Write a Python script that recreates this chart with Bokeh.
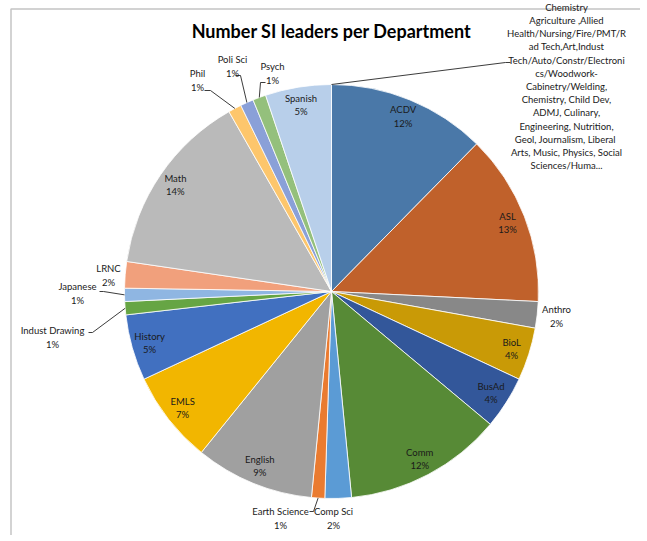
import math
from bokeh.plotting import figure
from bokeh.models import Range1d, ColumnDataSource
from bokeh.core.properties import value
from bokeh.embed import file_html
from bokeh.resources import INLINE

# ---------------- data ----------------
title_text = "Number SI leaders per Department"
categories = [
    "Chemistry Agriculture ,Allied Health/Nursing/Fire/PMT/Rad Tech,Art,Indust Tech/Auto/Constr/Electronics/Woodwork-Cabinetry/Welding, Chemistry, Child Dev, ADMJ, Culinary, Engineering, Nutrition, Geol,  Journalism, Liberal Arts, Music, Physics, Social Sciences/Huma...",
    "ACDV", "ASL", "Anthro", "BioL", "BusAd", "Comm", "Comp Sci", "Earth Science",
    "English", "EMLS", "History", "Indust Drawing", "Japanese", "LRNC", "Math",
    "Phil", "Poli Sci", "Psych", "Spanish",
]
counts = [0, 12, 13, 2, 4, 4, 12, 2, 1, 9, 7, 5, 1, 1, 2, 14, 1, 1, 1, 5]
colors = [
    "#5b9bd5", "#4a78a8", "#c0612b", "#888888", "#c99a06", "#33579a", "#578a36",
    "#5b9bd5", "#ea7b30", "#a0a0a0", "#f2b600", "#4170c0", "#66a544", "#8fb6e2",
    "#f1a07c", "#bababa", "#fdc66c", "#8aa0d8", "#94c07c", "#b8cfea",
]
# wrapped display text of the long first category (as Excel shows it)
first_label_lines = [
    "Chemistry", "Agriculture ,Allied", "Health/Nursing/Fire/PMT/R", "ad Tech,Art,Indust",
    "Tech/Auto/Constr/Electroni", "cs/Woodwork-", "Cabinetry/Welding,",
    "Chemistry, Child Dev,", "ADMJ, Culinary,", "Engineering, Nutrition,",
    "Geol,  Journalism, Liberal", "Arts, Music, Physics, Social", "Sciences/Huma...",
]

# ---------------- layout (pixels of the page) ----------------
W, H = 640, 535
def px(X, Y):
    return X, H - Y

CX, CY = px(331, 291)
R = 207
R_IN = 189
# labels placed outside the pie (page pixel centres) and leader elbows
outside_pos = {
    0: (566, 86), 3: (556, 316), 7: (333, 518), 8: (280, 518),
    12: (52, 337), 13: (77, 293), 14: (108, 275),
    16: (197, 80), 17: (232, 66), 18: (272, 73),
}
leaders = {
    0: [(505, 62), (510, 62)],
    8: [(313, 511), (309, 511)],
    12: [(92, 332), (88, 332)],
    13: [(103, 291), (99, 291)],
    16: [(210, 90), (204, 90)],
    17: [(240, 75), (235, 75)],
    18: [(260, 82), (265, 82)],
}

total = sum(counts)
k = 2 * math.pi / total

p = figure(width=W, height=H, output_backend="svg", toolbar_location=None,
           x_axis_type=None, y_axis_type=None, min_border=0,
           x_range=Range1d(0, W), y_range=Range1d(0, H))
p.outline_line_color = None
p.grid.visible = False
p.background_fill_color = "white"
p.border_fill_color = "white"

# chart area frame (left & top edges visible)
fx, fy = px(10.5, 8.5)
p.line(x=[fx, fx, W + 50], y=[-50, fy, fy], line_color="#c4c4c4", line_width=1.5)

# wedges
ws = {"start": [], "end": [], "color": []}
mids = []
cum = 0
for c, col in zip(counts, colors):
    t0 = cum * k
    t1 = (cum + c) * k
    mids.append((t0 + t1) / 2)
    if c > 0:
        ws["start"].append(math.pi / 2 - t1)
        ws["end"].append(math.pi / 2 - t0)
        ws["color"].append(col)
    cum += c
src = ColumnDataSource(ws)
p.wedge(x=CX, y=CY, radius=R, start_angle="start", end_angle="end",
        fill_color="color", line_color="white", line_width=0.8, source=src)

# leaders
lx, ly = [], []
for i, pts in leaders.items():
    th = mids[i]
    xs = [CX + R * math.sin(th)]
    ys = [CY + R * math.cos(th)]
    for (X, Y) in pts:
        a, b = px(X, Y)
        xs.append(a)
        ys.append(b)
    lx.append(xs)
    ly.append(ys)
p.multi_line(xs=lx, ys=ly, line_color="#262626", line_width=0.9)

# data labels
tx, ty, tt = [], [], []
for i, (name, c) in enumerate(zip(categories, counts)):
    if i == 0:
        txt = "\n".join(first_label_lines)
    else:
        txt = f"{name}\n{round(100 * c / total)}%"
    if i in outside_pos:
        a, b = px(*outside_pos[i])
    else:
        a = CX + R_IN * math.sin(mids[i])
        b = CY + R_IN * math.cos(mids[i])
    tx.append(a)
    ty.append(b)
    tt.append(txt)
p.text(x=tx, y=ty, text=tt, text_font=value("Lato"), text_font_size="9.5px",
       text_color="#1a1a1a", text_align="center", text_baseline="middle",
       text_line_height=1.2)

# title
tx0, ty0 = px(331, 30)
p.text(x=[tx0], y=[ty0], text=[title_text], text_font=value("Lato"),
       text_font_size="18px", text_font_style="bold", text_color="#000000",
       text_align="center", text_baseline="middle")

open("out.html", "w").write(file_html(p, INLINE))
